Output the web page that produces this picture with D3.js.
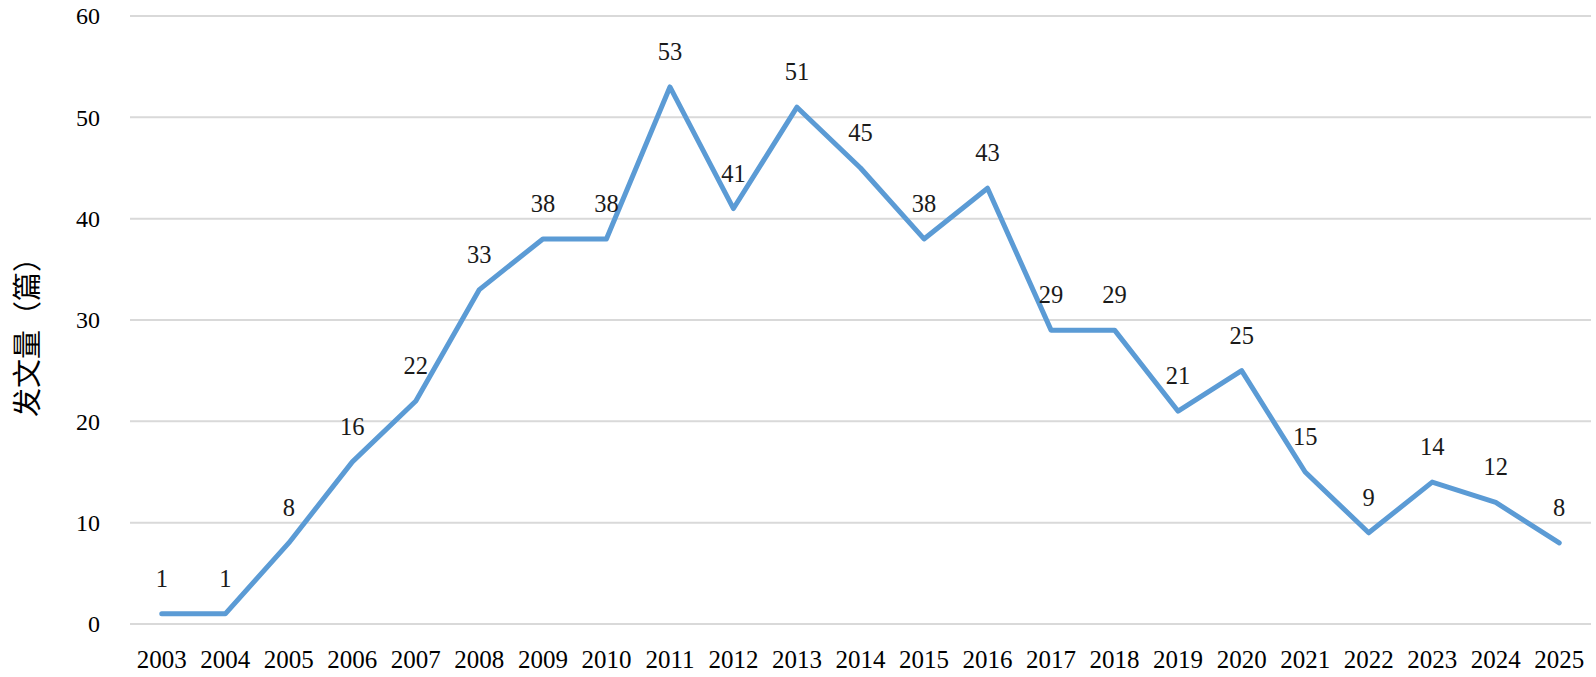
<!DOCTYPE html>
<html><head><meta charset="utf-8">
<script src="https://cdn.jsdelivr.net/npm/d3@7"></script>
<style>body{margin:0;background:#fff}svg{display:block}</style>
</head><body>
<svg id="c" width="1596" height="677"></svg>
<script>
const years = ["2003","2004","2005","2006","2007","2008","2009","2010","2011","2012","2013","2014","2015","2016","2017","2018","2019","2020","2021","2022","2023","2024","2025"];
const counts = [1,1,8,16,22,33,38,38,53,41,51,45,38,43,29,29,21,25,15,9,14,12,8];
const yTicks = [0,10,20,30,40,50,60];
const yTitle = "发文量（篇）";

const svg = d3.select("#c");
const x = d3.scalePoint().domain(years).range([130,1591]).padding(0.5);
const y = d3.scaleLinear().domain([0,60]).range([624,16]);
const serif = "'Liberation Serif','Times New Roman',serif";

svg.append("g").selectAll("line").data(yTicks).join("line")
  .attr("x1",130).attr("x2",1591).attr("y1",d=>y(d)).attr("y2",d=>y(d))
  .attr("stroke","#d9d9d9").attr("stroke-width",2);

svg.append("g").selectAll("text").data(yTicks).join("text")
  .attr("x",100).attr("y",d=>y(d)).attr("dy","0.35em").attr("text-anchor","end")
  .attr("font-family",serif).attr("font-size",24).attr("fill","#000").text(d=>d);

svg.append("g").selectAll("text").data(years).join("text")
  .attr("x",d=>x(d)).attr("y",668).attr("text-anchor","middle")
  .attr("font-family",serif).attr("font-size",25).attr("fill","#000").text(d=>d);

svg.append("text").attr("transform","translate(38,330) rotate(-90)")
  .attr("text-anchor","middle").attr("font-family","'Noto Sans CJK SC',sans-serif")
  .attr("font-size",29).attr("fill","#000").text(yTitle);

const line = d3.line().x((d,i)=>x(years[i])).y(d=>y(d));
svg.append("path").datum(counts).attr("d",line).attr("fill","none")
  .attr("stroke","#5b9bd5").attr("stroke-width",5).attr("stroke-linejoin","round").attr("stroke-linecap","round");

svg.append("g").selectAll("text").data(counts).join("text")
  .attr("x",(d,i)=>x(years[i])).attr("y",d=>y(d)-27).attr("text-anchor","middle")
  .attr("font-family",serif).attr("font-size",24.5).attr("fill","#1a1a1a").text(d=>d);
</script>
</body></html>
